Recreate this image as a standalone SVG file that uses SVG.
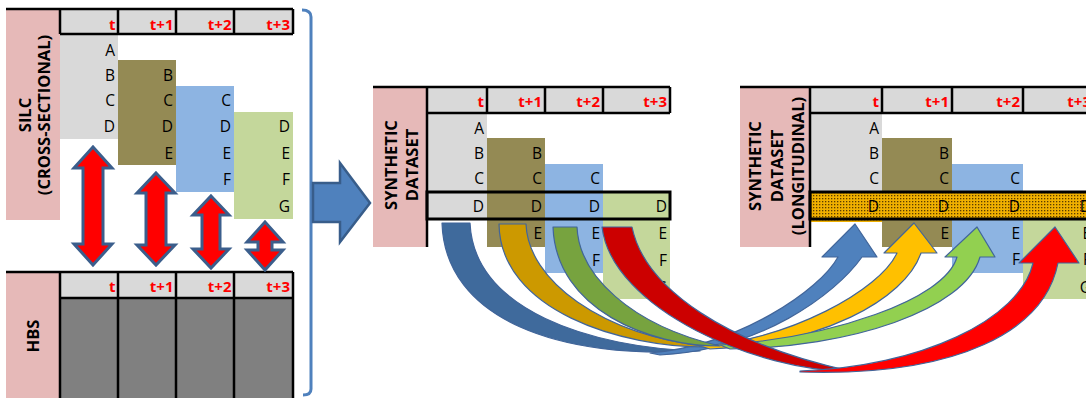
<svg xmlns="http://www.w3.org/2000/svg" width="1086" height="398" viewBox="0 0 1086 398">
<defs>
<pattern id="dots" width="3" height="3" patternUnits="userSpaceOnUse"><rect width="3" height="3" fill="#f0b000"/><rect x="0" y="0" width="1.3" height="1.3" fill="#5a3c00"/></pattern>
<style>
.lbl{fill:#e6b9b8}
.hdr{fill:#d9d9d9}
.gray{fill:#d9d9d9}
.olive{fill:#948a54}
.blue{fill:#8db4e2}
.green{fill:#c4d79b}
.ln{stroke:#000;stroke-width:2.5;fill:none}
.box{stroke:#000;stroke-width:3}
.ht{font-family:'Open Sans','Liberation Sans',sans-serif;font-weight:bold;font-size:15px;fill:#ff0000;text-anchor:end}
.ct{font-family:'Open Sans','Liberation Sans',sans-serif;font-size:15.5px;fill:#000;text-anchor:end}
.rt{font-family:'Open Sans','Liberation Sans',sans-serif;font-weight:bold;font-size:16.5px;fill:#000;text-anchor:middle}
.dbl{fill:#ff0000;stroke:#3b5e8c;stroke-width:3;stroke-linejoin:miter}
.ca{stroke:#41659a;stroke-width:1.2;stroke-linejoin:round}
</style>
</defs>
<rect width="1086" height="398" fill="#fff"/>

<g id="silc">
<rect class="lbl" x="6" y="10" width="54" height="210"/>
<rect class="hdr" x="60" y="9" width="233" height="25"/>
<rect class="gray" x="60" y="34" width="58" height="105"/>
<rect class="olive" x="118" y="60" width="58" height="105"/>
<rect class="blue" x="176" y="86" width="58" height="106"/>
<rect class="green" x="234" y="112" width="59" height="107"/>
<path class="ln" d="M6,9H293M60,34H293M60,9V34M118,9V34M176,9V34M234,9V34M293,9V34"/>
<text class="ht" x="115.5" y="30">t</text>
<text class="ht" x="173.5" y="30">t+1</text>
<text class="ht" x="231.5" y="30">t+2</text>
<text class="ht" x="290" y="30">t+3</text>
<text class="ct" x="115" y="56">A</text>
<text class="ct" x="115" y="81">B</text>
<text class="ct" x="115" y="106">C</text>
<text class="ct" x="115" y="132">D</text>
<text class="ct" x="173" y="81">B</text>
<text class="ct" x="173" y="106">C</text>
<text class="ct" x="173" y="132">D</text>
<text class="ct" x="173" y="159">E</text>
<text class="ct" x="231" y="106">C</text>
<text class="ct" x="231" y="132">D</text>
<text class="ct" x="231" y="159">E</text>
<text class="ct" x="231" y="185">F</text>
<text class="ct" x="290" y="132">D</text>
<text class="ct" x="290" y="159">E</text>
<text class="ct" x="290" y="185">F</text>
<text class="ct" x="290" y="212">G</text>
<text class="rt" transform="translate(31,115) rotate(-90)">SILC</text>
<text class="rt" transform="translate(50,115) rotate(-90)">(CROSS-SECTIONAL)</text>
</g>

<g id="hbs">
<rect class="lbl" x="6" y="273" width="54" height="125"/>
<rect class="hdr" x="60" y="272" width="233" height="26"/>
<rect x="60" y="298" width="233" height="100" fill="#808080"/>
<path class="ln" d="M6,272H293M60,298H293M60,272V398M118,272V398M176,272V398M234,272V398M293,272V398"/>
<text class="ht" x="115.5" y="292">t</text>
<text class="ht" x="173.5" y="292">t+1</text>
<text class="ht" x="231.5" y="292">t+2</text>
<text class="ht" x="290" y="292">t+3</text>
<text class="rt" transform="translate(39,336) rotate(-90)">HBS</text>
</g>

<g id="synthetic">
<rect class="lbl" x="373" y="88" width="54" height="159"/>
<rect class="hdr" x="427" y="87" width="243" height="26"/>
<rect class="gray" x="427" y="113" width="60" height="106"/>
<rect class="olive" x="487" y="138" width="58" height="109"/>
<rect class="blue" x="545" y="164" width="58" height="109"/>
<rect class="green" x="603" y="192" width="67" height="107"/>
<rect class="box" x="427" y="192" width="243" height="27" fill="none"/>
<path class="ln" d="M373,87H670M427,113H670M427,87V247M487,87V113M545,87V113M603,87V113M670,87V113"/>
<text class="ht" x="484" y="107">t</text>
<text class="ht" x="542" y="107">t+1</text>
<text class="ht" x="600" y="107">t+2</text>
<text class="ht" x="667" y="107">t+3</text>
<text class="ct" x="484" y="134">A</text>
<text class="ct" x="484" y="159">B</text>
<text class="ct" x="484" y="184">C</text>
<text class="ct" x="484" y="212">D</text>
<text class="ct" x="542" y="159">B</text>
<text class="ct" x="542" y="184">C</text>
<text class="ct" x="542" y="212">D</text>
<text class="ct" x="542" y="239">E</text>
<text class="ct" x="600" y="184">C</text>
<text class="ct" x="600" y="212">D</text>
<text class="ct" x="600" y="239">E</text>
<text class="ct" x="600" y="266">F</text>
<text class="ct" x="667" y="212">D</text>
<text class="ct" x="667" y="239">E</text>
<text class="ct" x="667" y="266">F</text>
<text class="ct" x="667" y="293">G</text>
<text class="rt" transform="translate(397,165) rotate(-90)">SYNTHETIC</text>
<text class="rt" transform="translate(418,165) rotate(-90)">DATASET</text>
</g>

<g id="longitudinal">
<rect class="lbl" x="740" y="88" width="70" height="159"/>
<rect class="hdr" x="810" y="87" width="284" height="26"/>
<rect class="gray" x="810" y="113" width="72" height="106"/>
<rect class="olive" x="882" y="138" width="70" height="109"/>
<rect class="blue" x="952" y="164" width="71" height="109"/>
<rect class="green" x="1023" y="192" width="71" height="107"/>
<rect x="810" y="219" width="72" height="3" fill="url(#dots)"/>
<rect class="box" x="810" y="192" width="284" height="27" fill="url(#dots)"/>
<path class="ln" d="M740,87H1094M810,113H1094M810,87V247M882,87V113M952,87V113M1023,87V113"/>
<text class="ht" x="879" y="107">t</text>
<text class="ht" x="949" y="107">t+1</text>
<text class="ht" x="1020" y="107">t+2</text>
<text class="ht" x="1091" y="107">t+3</text>
<text class="ct" x="879" y="134">A</text>
<text class="ct" x="879" y="159">B</text>
<text class="ct" x="879" y="184">C</text>
<text class="ct" x="879" y="212">D</text>
<text class="ct" x="949" y="159">B</text>
<text class="ct" x="949" y="184">C</text>
<text class="ct" x="949" y="212">D</text>
<text class="ct" x="949" y="239">E</text>
<text class="ct" x="1020" y="184">C</text>
<text class="ct" x="1020" y="212">D</text>
<text class="ct" x="1020" y="239">E</text>
<text class="ct" x="1020" y="265">F</text>
<text class="ct" x="1091" y="212">D</text>
<text class="ct" x="1091" y="239">E</text>
<text class="ct" x="1091" y="265">F</text>
<text class="ct" x="1091" y="293">G</text>
<text class="rt" transform="translate(761,166) rotate(-90)">SYNTHETIC</text>
<text class="rt" transform="translate(783,166) rotate(-90)">DATASET</text>
<text class="rt" transform="translate(804,166) rotate(-90)">(LONGITUDINAL)</text>
</g>

<g id="connectors">
<polygon class="dbl" points="93,147 112,168 103,168 103,244 112,244 93,265 74,244 83,244 83,168 74,168"/>
<polygon class="dbl" points="156,173 175,193 166,193 166,245 175,245 156,265 137,245 146,245 146,193 137,193"/>
<polygon class="dbl" points="211,196 229,215 220,215 220,249 229,249 211,268 193,249 202,249 202,215 193,215"/>
<polygon class="dbl" points="265,222 283,242 272,242 272,250 283,250 265,270 247,250 258,250 258,242 247,242"/>
<path d="M302,10Q311,10 311,17V389Q311,395 303,395" fill="none" stroke="#4f81bd" stroke-width="3"/>
<polygon points="313,183 340,183 340,163 370,203 340,242 340,222 313,222" fill="#4f81bd" stroke="#385d8a" stroke-width="2.5" stroke-linejoin="miter"/>

<path class="ca" fill="#3f6a9c" d="M442,223L470,223C474,310 590,348 700,351C560,360 445,320 442,223Z"/>
<path class="ca" fill="#4f81bd" d="M650,353C740,345 820,290 838,257L822,257L855,224L877,257L862,257C835,295 760,350 660,355Z"/>

<path class="ca" fill="#cc9900" d="M499,224L526,224C528,280 600,335 710,347C620,348 500,310 499,224Z"/>
<path class="ca" fill="#ffc000" d="M700,346C790,340 880,290 897,253L884,253L914,223L937,253L921,253C905,300 820,345 710,349Z"/>

<path class="ca" fill="#77a33f" d="M553,227L577,227C579,275 630,325 720,346C650,346 556,310 553,227Z"/>
<path class="ca" fill="#92d050" d="M720,345C830,338 945,300 957,257L945,257L977,227L995,257L980,257C965,310 850,348 730,349Z"/>

<path class="ca" fill="#cc0000" d="M602,227L632,227C645,290 730,345 850,371C760,372 612,310 602,227Z"/>
<path class="ca" fill="#ff0000" d="M800,371C920,367 1020,320 1033,263L1019,263L1055,227L1079,263L1058,263C1045,330 960,377 800,372Z"/>
</g>
</svg>
